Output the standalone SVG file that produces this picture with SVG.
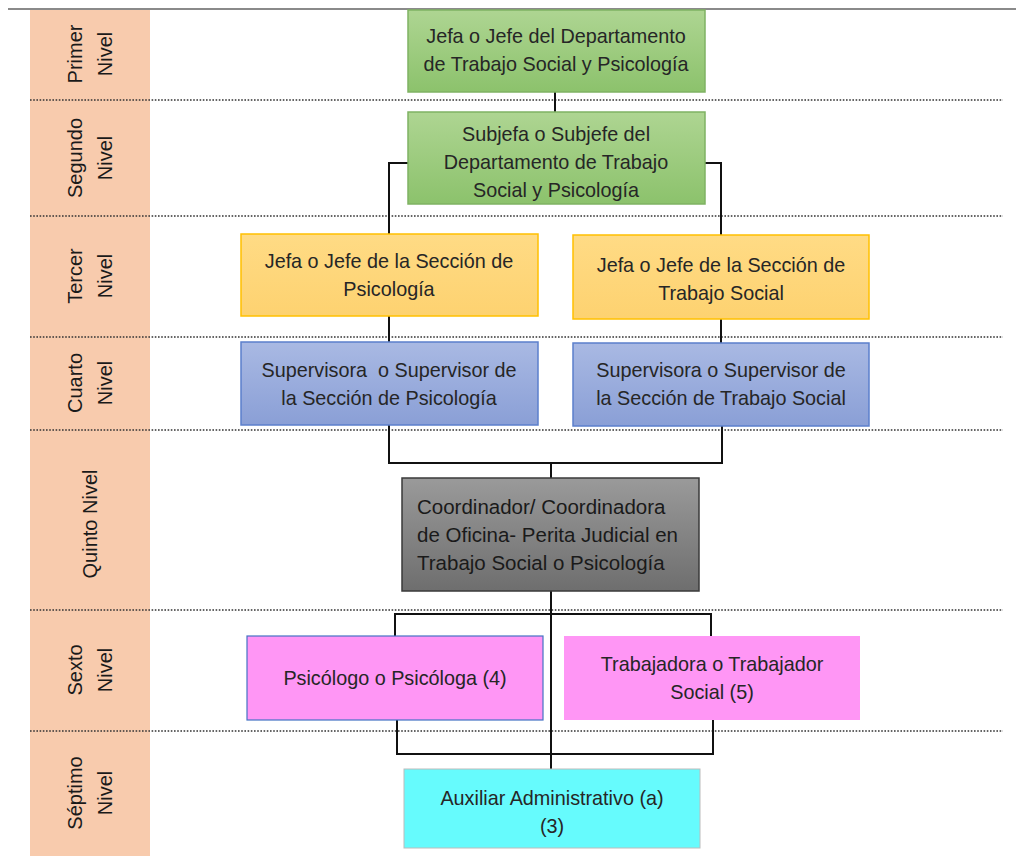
<svg xmlns="http://www.w3.org/2000/svg" width="1016" height="856" viewBox="0 0 1016 856">
<defs>
<linearGradient id="gGreen" x1="0" y1="0" x2="0" y2="1"><stop offset="0" stop-color="#aed592"/><stop offset="1" stop-color="#8cc26c"/></linearGradient>
<linearGradient id="gBlue" x1="0" y1="0" x2="0" y2="1"><stop offset="0" stop-color="#a9b9e3"/><stop offset="1" stop-color="#8a9fd6"/></linearGradient>
<linearGradient id="gGray" x1="0" y1="0" x2="0" y2="1"><stop offset="0" stop-color="#9a9a9a"/><stop offset="1" stop-color="#6e6e6e"/></linearGradient>
<linearGradient id="gYellow" x1="0" y1="0" x2="0" y2="1"><stop offset="0" stop-color="#ffdb85"/><stop offset="1" stop-color="#fdd270"/></linearGradient>
</defs>
<style>
.lvl{font-family:"Liberation Sans",Arial,sans-serif;font-size:20px;fill:#1a1a1a;text-anchor:middle}
.t{font-family:"Liberation Sans",Arial,sans-serif;font-size:19.8px;fill:#262626;text-anchor:middle;white-space:pre}
.tl{font-family:"Liberation Sans",Arial,sans-serif;font-size:20.5px;fill:#1a1a1a;text-anchor:start}
.dot{stroke:#333;stroke-width:1.6;stroke-dasharray:1.6 1.6;fill:none}
.con{stroke:#111;stroke-width:2;fill:none}
.green{fill:url(#gGreen);stroke:#7fb263;stroke-width:1.5}
.yellow{fill:url(#gYellow);stroke:#ffc000;stroke-width:1.5}
.blue{fill:url(#gBlue);stroke:#5b7fcc;stroke-width:1.5}
.gray{fill:url(#gGray);stroke:#3a3a3a;stroke-width:1.5}
.pink{fill:#ff96f5}
.cyan{fill:#66fbfd;stroke:#bcbcbc;stroke-width:1}
</style>
<rect x="0" y="0" width="1016" height="856" fill="#ffffff"/>
<line x1="8" y1="9" x2="1016" y2="9" stroke="#8a8a8a" stroke-width="2"/>
<rect x="30" y="10" width="120" height="846" fill="#f8cbad"/>

<g id="levels">
<text class="lvl" transform="translate(82,54) rotate(-90)">Primer</text>
<text class="lvl" transform="translate(112,54) rotate(-90)">Nivel</text>
<text class="lvl" transform="translate(82,158) rotate(-90)">Segundo</text>
<text class="lvl" transform="translate(112,158) rotate(-90)">Nivel</text>
<text class="lvl" transform="translate(82,276) rotate(-90)">Tercer</text>
<text class="lvl" transform="translate(112,276) rotate(-90)">Nivel</text>
<text class="lvl" transform="translate(82,383) rotate(-90)">Cuarto</text>
<text class="lvl" transform="translate(112,383) rotate(-90)">Nivel</text>
<text class="lvl" transform="translate(97,524) rotate(-90)">Quinto Nivel</text>
<text class="lvl" transform="translate(82,670) rotate(-90)">Sexto</text>
<text class="lvl" transform="translate(112,670) rotate(-90)">Nivel</text>
<text class="lvl" transform="translate(82,793) rotate(-90)">Séptimo</text>
<text class="lvl" transform="translate(112,793) rotate(-90)">Nivel</text>
</g>

<g id="dividers">
<line class="dot" x1="30" y1="100" x2="1003" y2="100"/>
<line class="dot" x1="30" y1="216" x2="1003" y2="216"/>
<line class="dot" x1="30" y1="337" x2="1003" y2="337"/>
<line class="dot" x1="30" y1="430" x2="1003" y2="430"/>
<line class="dot" x1="30" y1="610" x2="1003" y2="610"/>
<line class="dot" x1="30" y1="731" x2="1003" y2="731"/>
</g>

<g id="connectors">
<line class="con" x1="555" y1="92" x2="555" y2="112"/>
<polyline class="con" points="408,163 389,163 389,234"/>
<polyline class="con" points="705,163 721,163 721,235"/>
<line class="con" x1="389" y1="316" x2="389" y2="342"/>
<line class="con" x1="721" y1="319" x2="721" y2="343"/>
<polyline class="con" points="389,425 389,463 722,463 722,426"/>
<line class="con" x1="551" y1="463" x2="551" y2="478"/>
<line class="con" x1="551" y1="591" x2="551" y2="769"/>
<polyline class="con" points="395,636 395,614 711,614 711,636"/>
<polyline class="con" points="397,720 397,754 713,754 713,720"/>
</g>

<g id="n1"><rect class="green" x="408" y="10" width="297" height="82"/>
<text class="t" x="556" y="43">Jefa o Jefe del Departamento</text>
<text class="t" x="556" y="71">de Trabajo Social y Psicología</text></g>

<g id="n2"><rect class="green" x="408" y="112" width="297" height="92"/>
<text class="t" x="556" y="141">Subjefa o Subjefe del</text>
<text class="t" x="556" y="169">Departamento de Trabajo</text>
<text class="t" x="556" y="197">Social y Psicología</text></g>

<g id="n3"><rect class="yellow" x="241" y="234" width="297" height="82"/>
<text class="t" x="389" y="268">Jefa o Jefe de la Sección de</text>
<text class="t" x="389" y="296">Psicología</text></g>

<g id="n4"><rect class="yellow" x="573" y="235" width="296" height="84"/>
<text class="t" x="721" y="272">Jefa o Jefe de la Sección de</text>
<text class="t" x="721" y="300">Trabajo Social</text></g>

<g id="n5"><rect class="blue" x="241" y="342" width="297" height="83"/>
<text class="t" x="389" y="377" xml:space="preserve">Supervisora  o Supervisor de</text>
<text class="t" x="389" y="405">la Sección de Psicología</text></g>

<g id="n6"><rect class="blue" x="573" y="343" width="296" height="83"/>
<text class="t" x="721" y="377">Supervisora o Supervisor de</text>
<text class="t" x="721" y="405">la Sección de Trabajo Social</text></g>

<g id="n7"><rect class="gray" x="402" y="478" width="297" height="113"/>
<text class="tl" x="417" y="514">Coordinador/ Coordinadora</text>
<text class="tl" x="417" y="542">de Oficina- Perita Judicial en</text>
<text class="tl" x="417" y="570">Trabajo Social o Psicología</text></g>

<g id="n8"><rect class="pink" x="247" y="636" width="296" height="84" stroke="#4472c4" stroke-width="1.2"/>
<text class="t" x="395" y="685">Psicólogo o Psicóloga (4)</text></g>

<g id="n9"><rect class="pink" x="564" y="636" width="296" height="84"/>
<text class="t" x="712" y="671">Trabajadora o Trabajador</text>
<text class="t" x="712" y="699">Social (5)</text></g>

<g id="n10"><rect class="cyan" x="404" y="769" width="296" height="79"/>
<text class="t" x="552" y="805">Auxiliar Administrativo (a)</text>
<text class="t" x="552" y="833">(3)</text></g>
</svg>
